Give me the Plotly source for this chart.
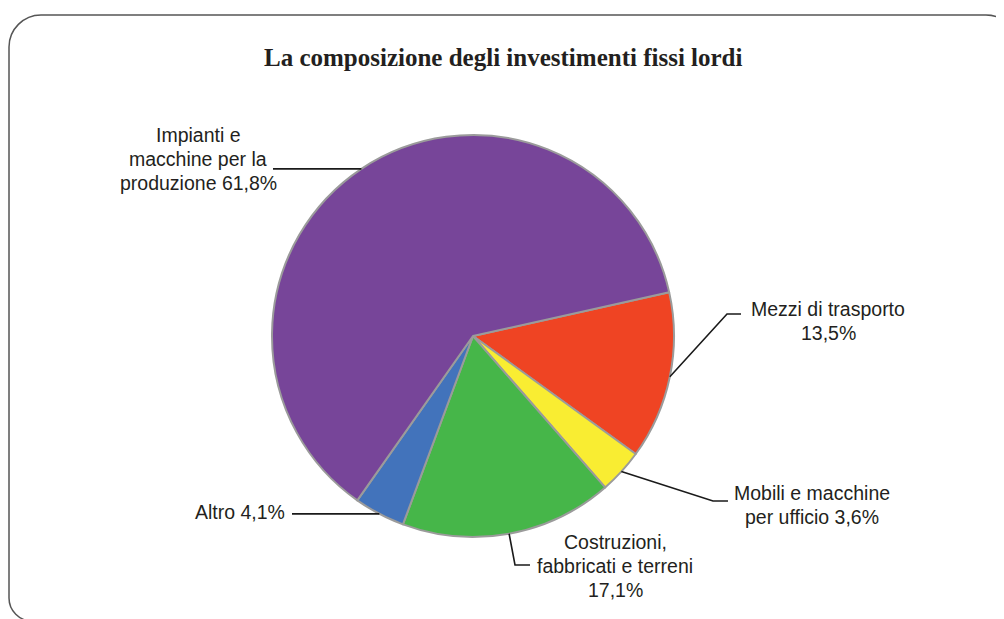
import math
import plotly.graph_objects as go

W, H = 1004, 619
OFF = 8  # the page body adds an 8px margin around the figure

# data
categorie = ['Mezzi di trasporto', 'Mobili e macchine per ufficio',
             'Costruzioni, fabbricati e terreni', 'Altro',
             'Impianti e macchine per la produzione']
quote = [13.5, 3.6, 17.1, 4.1, 61.8]
colori = ['#EF4423', '#F9ED32', '#46B649', '#4273BB', '#774599']
etichette = [
    ['Mezzi di trasporto', '13,5%'],
    ['Mobili e macchine', 'per ufficio 3,6%'],
    ['Costruzioni,', 'fabbricati e terreni', '17,1%'],
    ['Altro 4,1%'],
    ['Impianti e', 'macchine per la', 'produzione 61,8%'],
]

# pie geometry (pixels on the page)
cx, cy, r = 473, 336, 201
rotazione = 77.4

# label layout: text centre x, first line y, elbow point, end of leader
layout_etichette = [
    dict(tx=828, ty=309, elbow=(727, 314), end=(741, 314)),
    dict(tx=812, ty=493, elbow=(713, 501), end=(728, 501)),
    dict(tx=615, ty=542, elbow=(515, 565), end=(530, 565)),
    dict(tx=240, ty=512, elbow=None, end=(292, 518)),
    dict(tx=198, ty=135, elbow=None, end=(273, 167)),
]


def px(x, y):
    return (x - OFF) / W, 1 - (y - OFF) / H


def pt(x, y):
    return '%.5f,%.5f' % px(x, y)


fig = go.Figure()
x0, y1 = px(cx - r, cy - r)
x1, y0 = px(cx + r, cy + r)
fig.add_trace(go.Pie(
    labels=categorie,
    values=quote,
    sort=False,
    direction='clockwise',
    rotation=rotazione,
    textinfo='none',
    hoverinfo='label+percent',
    marker=dict(colors=colori, line=dict(color='#9b9b9b', width=2)),
    domain=dict(x=[x0, x1], y=[y0, y1]),
    showlegend=False,
))

annotations = []
shapes = []

# leader lines start at the middle of each slice, on the rim
totale = sum(quote)
cum = 0
for v, lab, cfg in zip(quote, etichette, layout_etichette):
    mid = rotazione + (cum + v / 2) / totale * 360
    cum += v
    a = math.radians(mid)
    sx, sy = cx + r * math.sin(a), cy - r * math.cos(a)
    pts = [(sx, sy)]
    if cfg['elbow'] is not None:
        pts.append(cfg['elbow'])
    ex, ey = cfg['end']
    if cfg['elbow'] is None:
        ey = sy
    pts.append((ex, ey))
    path = 'M ' + ' L '.join(pt(x, y) for x, y in pts)
    shapes.append(dict(type='path', path=path, xref='paper', yref='paper',
                       line=dict(color='#1a1a1a', width=1.6)))
    for i, riga in enumerate(lab):
        x, y = px(cfg['tx'], cfg['ty'] + i * 24)
        annotations.append(dict(
            text=riga, x=x, y=y, xref='paper', yref='paper',
            xanchor='center', yanchor='middle', showarrow=False,
            font=dict(family='Arial, Liberation Sans', size=19.5, color='#231f20'),
        ))

# title
tx, ty = px(503, 57)
annotations.append(dict(
    text='<b>La composizione degli investimenti fissi lordi</b>',
    x=tx, y=ty, xref='paper', yref='paper', xanchor='center', yanchor='middle',
    showarrow=False,
    font=dict(family='Times New Roman, Liberation Serif', size=25, color='#231f20'),
))

# cut-off letter at the top right
yx, yy = px(924, 0)
annotations.append(dict(
    text='y', x=yx, y=yy, xref='paper', yref='paper', xanchor='center',
    yanchor='bottom', yshift=-7, showarrow=False,
    font=dict(family='Liberation Serif', size=22, color='#231f20', style='italic'),
))

# rounded frame (right and bottom sides run off the page)
L, T, R, B = 9, 15, 1018, 621
kt, kb = 32, 23
c = 0.45
frame = ('M ' + pt(L + kb, B) +
         ' C ' + pt(L + kb * c, B) + ' ' + pt(L, B - kb * c) + ' ' + pt(L, B - kb) +
         ' L ' + pt(L, T + kt) +
         ' C ' + pt(L, T + kt * c) + ' ' + pt(L + kt * c, T) + ' ' + pt(L + kt, T) +
         ' L ' + pt(R - kt, T) +
         ' C ' + pt(R - kt * c, T) + ' ' + pt(R, T + kt * c) + ' ' + pt(R, T + kt))
shapes.append(dict(type='path', path=frame, xref='paper', yref='paper',
                   line=dict(color='#555555', width=1.5)))

fig.update_layout(
    width=W, height=H,
    margin=dict(l=0, r=0, t=0, b=0),
    paper_bgcolor='white',
    plot_bgcolor='white',
    annotations=annotations,
    shapes=shapes,
)

fig.write_html("out.html")
